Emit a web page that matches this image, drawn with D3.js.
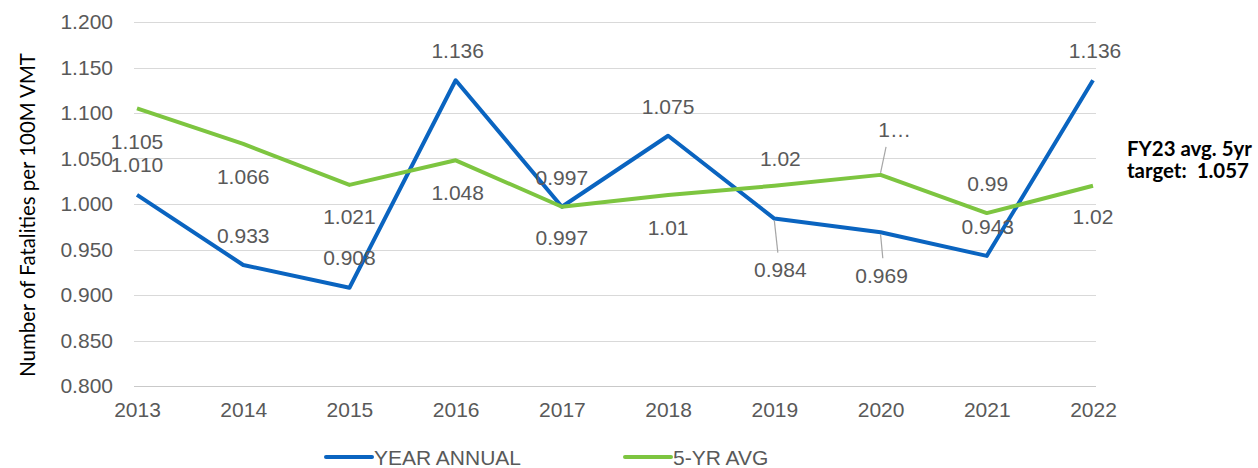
<!DOCTYPE html>
<html>
<head>
<meta charset="utf-8">
<script src="https://cdn.jsdelivr.net/npm/d3@7/dist/d3.min.js"></script>
<style>
  html, body { margin: 0; padding: 0; background: #ffffff; }
  svg { display: block; }
  text { font-family: "Liberation Sans", Arial, sans-serif; }
</style>
</head>
<body>
<svg id="chart" width="1258" height="468"></svg>
<script>
// Fatalities per 100M vehicle miles travelled
const years = ["2013", "2014", "2015", "2016", "2017", "2018", "2019", "2020", "2021", "2022"];
const yearAnnual = [1.010, 0.933, 0.908, 1.136, 0.997, 1.075, 0.984, 0.969, 0.943, 1.136];
const fiveYrAvg = [1.105, 1.066, 1.021, 1.048, 0.997, 1.01, 1.02, 1.032, 0.99, 1.02];
const annualLabels = ["1.010", "0.933", "0.908", "1.136", "0.997", "1.075", "0.984", "0.969", "0.943", "1.136"];
const avgLabels = ["1.105", "1.066", "1.021", "1.048", "0.997", "1.01", "1.02", "1\u2026", "0.99", "1.02"];
const yTicks = [0.8, 0.85, 0.9, 0.95, 1.0, 1.05, 1.1, 1.15, 1.2];
const seriesNames = ["YEAR ANNUAL", "5-YR AVG"];

// label placement: pixel offset from the point, plus optional leader line
const annualPlacement = [
  {dx: 0, dy: -30}, {dx: 0, dy: -29}, {dx: 0, dy: -30}, {dx: 2, dy: -30}, {dx: 0, dy: -29},
  {dx: 0, dy: -29}, {dx: 6, dy: 51, leader: true}, {dx: 1, dy: 43, leader: true},
  {dx: 1, dy: -29}, {dx: 2, dy: -30}
];
const avgPlacement = [
  {dx: 0, dy: 33}, {dx: 0, dy: 33}, {dx: 0, dy: 32}, {dx: 2, dy: 32}, {dx: 0, dy: 31},
  {dx: 0, dy: 33}, {dx: 6, dy: -27}, {dx: 14, dy: -45, leader: true},
  {dx: 1, dy: -30}, {dx: 0, dy: 31}
];

const BLUE = "#0A64C0";
const GREEN = "#7DC540";
const TEXT = "#595959";
const GRID = "#d9d9d9";

const svg = d3.select("#chart");

const x = d3.scalePoint().domain(years).range([137, 1093]).padding(0);
const y = d3.scaleLinear().domain([0.8, 1.2]).range([386, 22]);

// horizontal gridlines
svg.append("g")
  .selectAll("line")
  .data(yTicks)
  .join("line")
  .attr("x1", 134).attr("x2", 1096)
  .attr("y1", d => Math.round(y(d)) + 0.5)
  .attr("y2", d => Math.round(y(d)) + 0.5)
  .attr("stroke", d => d === 0.8 ? "#c9c9c9" : GRID)
  .attr("stroke-width", 1);

// y axis tick labels
const yAxis = d3.axisLeft(y).tickValues(yTicks).tickFormat(d3.format(".3f")).tickSize(0).tickPadding(0);
const gy = svg.append("g").attr("transform", "translate(113,0)").call(yAxis);
gy.select(".domain").remove();
gy.selectAll("text")
  .attr("fill", TEXT)
  .style("font-size", "21px")
  .style("font-family", "'Liberation Sans', Arial, sans-serif");

// x axis category labels
const xAxis = d3.axisBottom(x).tickSize(0).tickPadding(0);
const gx = svg.append("g").attr("transform", "translate(0,402)").call(xAxis);
gx.select(".domain").remove();
gx.selectAll("text")
  .attr("fill", TEXT)
  .attr("dy", "0.71em")
  .style("font-size", "21px")
  .style("font-family", "'Liberation Sans', Arial, sans-serif");

// y axis title
const yTitle = svg.append("text")
  .attr("transform", "translate(27,215) rotate(-90)")
  .attr("text-anchor", "middle")
  .attr("dominant-baseline", "central")
  .attr("fill", "#000")
  .style("font-family", "Lato, 'Open Sans', sans-serif")
  .style("font-size", "18px")
  .text("Number of Fatalities per 100M VMT");
const tl = yTitle.node().getComputedTextLength();
yTitle.style("font-size", (18 * 324 / tl).toFixed(2) + "px");

// series lines
const line = d3.line()
  .x((d, i) => x(years[i]))
  .y(d => y(d));

svg.append("path")
  .datum(yearAnnual)
  .attr("fill", "none")
  .attr("stroke", BLUE)
  .attr("stroke-width", 4)
  .attr("stroke-linejoin", "round")
  .attr("d", line);

svg.append("path")
  .datum(fiveYrAvg)
  .attr("fill", "none")
  .attr("stroke", GREEN)
  .attr("stroke-width", 4)
  .attr("stroke-linejoin", "round")
  .attr("d", line);

// data labels with leader lines where the label sits away from its point
function drawLabels(values, labels, placement) {
  const g = svg.append("g");
  values.forEach((v, i) => {
    const px = x(years[i]);
    const py = y(v);
    const p = placement[i];
    const lx = px + p.dx;
    const ly = py + p.dy;
    if (p.leader) {
      const dir = Math.sign(p.dy);
      g.append("line")
        .attr("x1", px).attr("y1", py + dir * 2)
        .attr("x2", px + p.dx * 0.25 + 2).attr("y2", ly - dir * 17)
        .attr("stroke", "#a6a6a6")
        .attr("stroke-width", 1.2);
    }
    g.append("text")
      .attr("x", lx)
      .attr("y", ly)
      .attr("text-anchor", "middle")
      .attr("dominant-baseline", "central")
      .attr("fill", TEXT)
      .style("font-size", "21px")
      .text(labels[i]);
  });
}
drawLabels(fiveYrAvg, avgLabels, avgPlacement);
drawLabels(yearAnnual, annualLabels, annualPlacement);

// legend
const legendItems = [
  {name: seriesNames[0], color: BLUE, x0: 326},
  {name: seriesNames[1], color: GREEN, x0: 625}
];
const lg = svg.append("g");
legendItems.forEach(it => {
  lg.append("line")
    .attr("x1", it.x0).attr("x2", it.x0 + 46)
    .attr("y1", 457).attr("y2", 457)
    .attr("stroke", it.color)
    .attr("stroke-width", 4)
    .attr("stroke-linecap", "round");
  lg.append("text")
    .attr("x", it.x0 + 48)
    .attr("y", 457)
    .attr("dominant-baseline", "central")
    .attr("fill", TEXT)
    .style("font-size", "21px")
    .text(it.name);
});

// target annotation
const note = svg.append("text")
  .attr("x", 1127)
  .attr("fill", "#000")
  .style("font-family", "Lato, 'Open Sans', sans-serif")
  .style("font-weight", "bold")
  .style("font-size", "18px");
note.append("tspan").attr("x", 1127).attr("y", 148).attr("dominant-baseline", "central").text("FY23 avg. 5yr");
note.append("tspan").attr("x", 1127).attr("y", 170).attr("dominant-baseline", "central").text("target:\u00a0 1.057");
const nl = note.select("tspan").node().getComputedTextLength();
note.style("font-size", (18 * 125 / nl).toFixed(2) + "px");
</script>
</body>
</html>
